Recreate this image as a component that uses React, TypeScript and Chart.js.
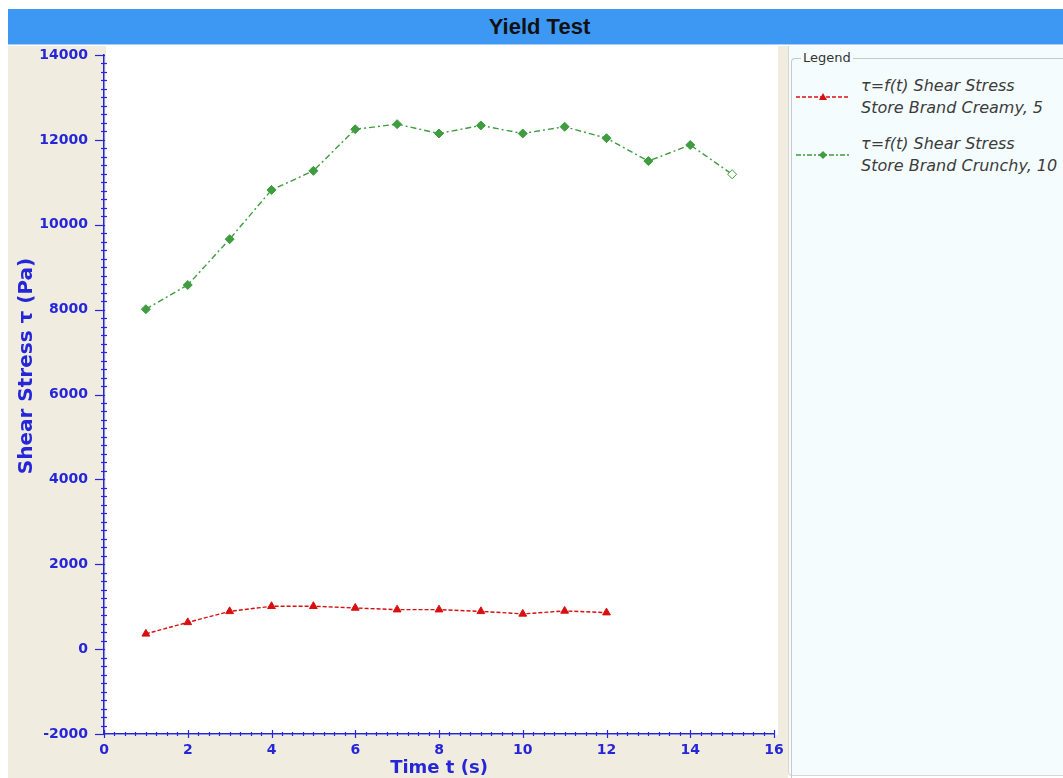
import React, { useEffect, useRef } from "react";
import { Chart, registerables } from "chart.js";

Chart.register(...registerables);

// ---- data ----
const timeCreamy = [1, 2, 3, 4, 5, 6, 7, 8, 9, 10, 11, 12];
const creamyValues = [360, 630, 890, 1010, 1010, 970, 930, 930, 890, 830, 900, 860];
const timeCrunchy = [1, 2, 3, 4, 5, 6, 7, 8, 9, 10, 11, 12, 13, 14, 15];
const crunchyValues = [8010, 8580, 9660, 10820, 11270, 12250, 12370, 12150, 12340, 12150, 12310, 12040, 11500, 11880, 11190];
const xTickLabels = [0, 2, 4, 6, 8, 10, 12, 14, 16];
const yTickLabels = [-2000, 0, 2000, 4000, 6000, 8000, 10000, 12000, 14000];

const titleText = "Yield Test";
const xTitle = "Time t (s)";
const yTitle = "Shear Stress \u03c4 (Pa)";
const seriesLabels = [
  ["\u03c4=f(t) Shear Stress", "Store Brand Creamy, 5"],
  ["\u03c4=f(t) Shear Stress", "Store Brand Crunchy, 10"],
];

const BLUE = "#2626d9";
const RED = "#d80f0f";
const GREEN = "#3f9c3f";
const BEIGE = "#f0ede0";

const plotBg = {
  id: "plotBg",
  beforeDraw(chart: any) {
    const { ctx, chartArea } = chart;
    ctx.save();
    ctx.fillStyle = "#ffffff";
    ctx.fillRect(chartArea.left + 2, 0, chartArea.right - chartArea.left + 2, chartArea.bottom + 1);
    ctx.restore();
  },
};

const axisTicks = {
  id: "axisTicks",
  afterDraw(chart: any) {
    const { ctx } = chart;
    const xs = chart.scales.x;
    const ys = chart.scales.y;
    ctx.save();
    ctx.strokeStyle = BLUE;
    ctx.lineWidth = 1.2;
    const ax = ys.right;
    ys.ticks.forEach((t: any) => {
      const py = Math.round(ys.getPixelForValue(t.value)) + 0.5;
      const major = yTickLabels.includes(t.value);
      ctx.beginPath();
      if (major) {
        ctx.moveTo(ax - 9, py);
        ctx.lineTo(ax + 1, py);
      } else {
        ctx.moveTo(ax - 3, py);
        ctx.lineTo(ax + 3, py);
      }
      ctx.stroke();
    });
    const ay = xs.top;
    xs.ticks.forEach((t: any) => {
      const px = Math.round(xs.getPixelForValue(t.value)) + 0.5;
      const major = xTickLabels.includes(t.value);
      ctx.beginPath();
      if (major) {
        ctx.moveTo(px, ay - 4);
        ctx.lineTo(px, ay + 4);
      } else {
        ctx.moveTo(px, ay - 2);
        ctx.lineTo(px, ay + 2);
      }
      ctx.stroke();
    });
    ctx.restore();
  },
};

const yTitlePlugin = {
  id: "yTitlePlugin",
  afterDraw(chart: any) {
    const { ctx } = chart;
    ctx.save();
    ctx.translate(19, 321);
    ctx.rotate(-Math.PI / 2);
    ctx.font = "bold 20px 'DejaVu Sans'";
    ctx.fillStyle = BLUE;
    ctx.textAlign = "center";
    ctx.textBaseline = "middle";
    ctx.fillText(yTitle, 0, 0);
    ctx.restore();
  },
};

function LegendSample({ color, kind }: { color: string; kind: "tri" | "dia" }) {
  return (
    <svg width={56} height={10} style={{ display: "block" }}>
      <line
        x1={1}
        y1={5}
        x2={55}
        y2={5}
        stroke={color}
        strokeWidth={1.3}
        strokeDasharray={kind === "tri" ? "4 2" : "5 2 2 2"}
      />
      {kind === "tri" ? (
        <polygon points="28,1 32,8 24,8" fill={color} />
      ) : (
        <polygon points="28,1 32,5 28,9 24,5" fill={color} />
      )}
    </svg>
  );
}

export default function App() {
  const canvasRef = useRef<HTMLCanvasElement | null>(null);

  useEffect(() => {
    const canvas = canvasRef.current;
    if (!canvas) return;
    const chart = new Chart(canvas, {
      type: "line",
      data: {
        datasets: [
          {
            label: seriesLabels[0].join(" "),
            data: timeCreamy.map((t, i) => ({ x: t, y: creamyValues[i] })),
            borderColor: RED,
            backgroundColor: RED,
            borderWidth: 1.4,
            borderDash: [4, 2],
            pointStyle: "triangle",
            pointRadius: 4.5,
            pointBorderWidth: 1,
            pointBorderColor: RED,
            pointBackgroundColor: RED,
            tension: 0,
          },
          {
            label: seriesLabels[1].join(" "),
            data: timeCrunchy.map((t, i) => ({ x: t, y: crunchyValues[i] })),
            borderColor: GREEN,
            backgroundColor: GREEN,
            borderWidth: 1.4,
            borderDash: [6, 3, 2, 3],
            pointStyle: "rectRot",
            pointRadius: 4.5,
            pointBorderWidth: 1,
            pointBorderColor: GREEN,
            pointBackgroundColor: (c: any) => (c.dataIndex === crunchyValues.length - 1 ? "#ffffff" : GREEN),
            tension: 0,
          },
        ],
      },
      options: {
        animation: false,
        responsive: false,
        devicePixelRatio: 1,
        layout: { padding: { top: 10, right: 14, left: 0, bottom: 0 } },
        plugins: {
          legend: { display: false },
          tooltip: { enabled: false },
          title: { display: false },
        },
        scales: {
          x: {
            type: "linear",
            min: 0,
            max: 16,
            afterFit: (s: any) => {
              s.height = 44;
              s.paddingLeft = 0;
              s.paddingRight = 0;
            },
            grid: { display: false, drawTicks: false },
            border: { display: true, color: BLUE, width: 1.5 },
            ticks: {
              stepSize: 0.25,
              autoSkip: false,
              maxRotation: 0,
              padding: 8,
              color: BLUE,
              font: { family: "DejaVu Sans", weight: "bold", size: 14 },
              callback: (v: any) => (xTickLabels.includes(Number(v)) ? String(v) : ""),
            },
            title: {
              display: true,
              text: xTitle,
              color: BLUE,
              padding: { top: 0, bottom: -1 },
              font: { family: "DejaVu Sans", weight: "bold", size: 18 },
            },
          },
          y: {
            type: "linear",
            min: -2000,
            max: 14000,
            afterFit: (s: any) => {
              s.width = 96;
              s.paddingTop = 0;
              s.paddingBottom = 0;
            },
            grid: { display: false, drawTicks: false },
            border: { display: true, color: BLUE, width: 1.5 },
            ticks: {
              stepSize: 200,
              autoSkip: false,
              padding: 16,
              color: BLUE,
              font: { family: "DejaVu Sans", weight: "bold", size: 14 },
              callback: (v: any) => (yTickLabels.includes(Number(v)) ? String(v) : ""),
            },
          },
        },
      },
      plugins: [plotBg, axisTicks, yTitlePlugin],
    } as any);
    return () => chart.destroy();
  }, []);

  return (
    <div style={{ position: "fixed", left: 8, top: 8, right: 0, bottom: 0, background: "#ffffff", overflow: "hidden" }}>
      <div
        style={{
          position: "absolute",
          left: 0,
          top: 1,
          right: 0,
          height: 36,
          background: "#3d98f3",
          borderBottom: "1px solid #a9cdf5",
          display: "flex",
          alignItems: "center",
          justifyContent: "center",
          fontFamily: "'Liberation Sans', Arial, sans-serif",
          fontWeight: "bold",
          fontSize: 22,
          color: "#111111",
          paddingLeft: 8,
          boxSizing: "border-box",
        }}
      >
        {titleText}
      </div>
      <div style={{ position: "absolute", left: 0, top: 38, width: 780, bottom: 0, background: BEIGE }}>
        <canvas ref={canvasRef} width={780} height={733} style={{ display: "block", marginTop: -1 }} />
      </div>
      <div
        style={{
          position: "absolute",
          left: 780,
          top: 38,
          right: 0,
          bottom: 2,
          background: "#f5fcfe",
          borderLeft: "1px solid #d6d6d6",
          borderBottom: "1px solid #d6d6d6",
          borderBottomLeftRadius: 4,
        }}
      >
        <div
          style={{
            position: "absolute",
            left: 2,
            top: 12,
            right: -2,
            bottom: -4,
            borderTop: "1px solid #c9c9c9",
            borderLeft: "1px solid #c9c9c9",
            borderTopLeftRadius: 4,
          }}
        />
        <div
          style={{
            position: "absolute",
            left: 12,
            top: 4,
            padding: "0 2px",
            background: "#f5fcfe",
            fontFamily: "'DejaVu Sans', sans-serif",
            fontSize: 13,
            lineHeight: "16px",
            color: "#333333",
          }}
        >
          Legend
        </div>
        {seriesLabels.map((lines, i) => (
          <div key={i} style={{ position: "absolute", left: 6, top: 29 + i * 58, display: "flex", alignItems: "center" }}>
            <div style={{ width: 66 }}>
              <LegendSample color={i === 0 ? RED : GREEN} kind={i === 0 ? "tri" : "dia"} />
            </div>
            <div
              style={{
                fontFamily: "'DejaVu Sans', sans-serif",
                fontStyle: "italic",
                fontSize: 16,
                lineHeight: "22px",
                color: "#3c3c3c",
                whiteSpace: "nowrap",
              }}
            >
              {lines.map((l, j) => (
                <div key={j}>{l}</div>
              ))}
            </div>
          </div>
        ))}
      </div>
    </div>
  );
}
